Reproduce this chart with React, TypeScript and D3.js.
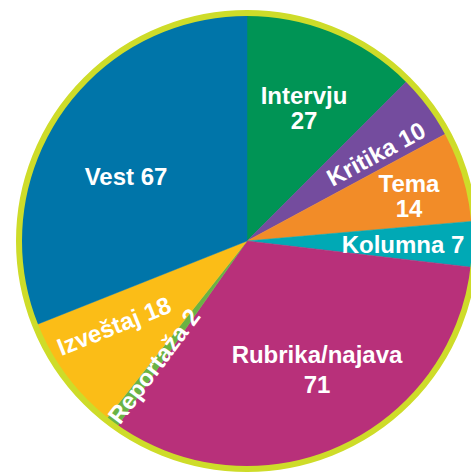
import React from "react";
import * as d3 from "d3";

const categories = ["Intervju", "Kritika", "Tema", "Kolumna", "Rubrika/najava", "Reportaža", "Izveštaj", "Vest"];
const values = [27, 10, 14, 7, 71, 2, 18, 67];
const colors = ["#009455", "#744c9e", "#f28c28", "#00a9b5", "#b8307a", "#6ab344", "#fbbd17", "#0075a9"];
// label lines per slice
const labelLines = [
  ["Intervju", "27"],
  ["Kritika 10"],
  ["Tema", "14"],
  ["Kolumna 7"],
  ["Rubrika/najava", "71"],
  ["Reportaža 2"],
  ["Izveštaj 18"],
  ["Vest 67"],
];

const W = 471, H = 474;
const cx = 247, cy = 241, R = 226;

// label placement: [x, y, rotation, lineGap]
const labelPos: [number, number, number, number][] = [
  [304, 96, 0, 25],
  [376, 154, -28.3, 0],
  [409, 184, 0, 25],
  [403, 245, 0, 0],
  [317, 355, 0, 30],
  [154, 366, -53.3, 0],
  [114, 326, -21.7, 0],
  [126, 177, 0, 0],
];

export default function App() {
  const data = categories.map((c, i) => ({ c, v: values[i], i }));
  const pie = d3.pie<any>().value((d) => d.v).sort(null).startAngle(0).endAngle(2 * Math.PI);
  const arcs = pie(data);
  const arc = d3.arc<any>().innerRadius(0).outerRadius(R);
  return (
    <svg width={W} height={H} style={{ position: "absolute", left: 0, top: 0 }}>
      <g transform={`translate(${cx},${cy})`}>
        {arcs.map((a, i) => (
          <path key={i} d={arc(a) || ""} fill={colors[i]} stroke={colors[i]} strokeWidth={0.5} />
        ))}
        <circle r={R + 2} fill="none" stroke="#cedc29" strokeWidth={6} />
      </g>
      {labelLines.map((lines, i) => {
        const [x, y, rot, gap] = labelPos[i];
        return (
          <text
            key={i}
            transform={`translate(${x},${y}) rotate(${rot})`}
            textAnchor="middle"
            fill="#ffffff"
            fontFamily="'Liberation Sans', Arial, sans-serif"
            fontWeight="bold"
            fontSize={24}
          >
            {lines.map((l, j) => (
              <tspan key={j} x={0} dy={j === 0 ? "0.35em" : gap}>
                {l}
              </tspan>
            ))}
          </text>
        );
      })}
    </svg>
  );
}
